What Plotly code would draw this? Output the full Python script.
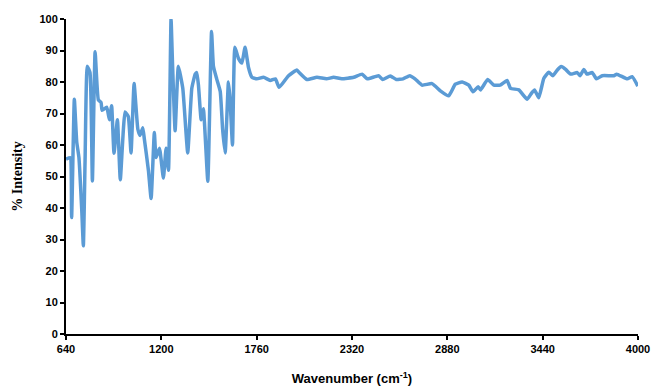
import plotly.graph_objects as go

wavenumber = [640, 664, 673, 689, 703, 716, 732, 742, 752, 765, 781, 795, 811, 830, 846, 852, 879, 895, 908, 922, 942, 959,
              987, 1006, 1022, 1040, 1062, 1075, 1091, 1100, 1124, 1140, 1159, 1169, 1189, 1212, 1228, 1242, 1257, 1265,
              1281, 1300, 1326, 1355, 1379, 1399, 1408, 1418, 1434, 1447, 1473, 1495, 1506, 1525, 1546, 1560, 1575, 1594,
              1603, 1618, 1632, 1653, 1673, 1692, 1712, 1732, 1761, 1800, 1840, 1870, 1892, 1947, 1996, 2010, 2055, 2114,
              2170, 2212, 2260, 2330, 2379, 2410, 2476, 2500, 2545, 2580, 2620, 2659, 2690, 2731, 2790, 2839, 2888, 2927,
              2967, 3006, 3031, 3061, 3075, 3117, 3153, 3190, 3231, 3251, 3300, 3349, 3375, 3392, 3417, 3447, 3476, 3500,
              3526, 3549, 3575, 3604, 3643, 3660, 3682, 3700, 3731, 3756, 3790, 3858, 3875, 3937, 3966, 3999]
intensity = [55.5, 56, 37, 74.5, 61, 56, 40, 28, 55, 85, 83, 48.6, 89.6, 74.3, 73.5, 71, 72, 68, 72.5, 57.4, 68, 49,
             70.5, 69, 57.5, 79.5, 65, 63, 65.5, 62, 52, 43, 64, 56, 59, 49.5, 59, 52, 100, 87,
             64.5, 85, 78, 57.5, 78, 82.5, 83, 79, 68, 71.5, 48.5, 96, 85, 81, 77, 65, 57.5, 80,
             75, 60, 91, 87.5, 86, 91, 84.6, 81.5, 81, 81.5, 80.5, 81, 78.3, 82, 83.8, 83, 80.8, 81.5,
             81, 81.5, 81, 81.5, 82.5, 81, 82, 80.8, 81.9, 80.8, 81, 82, 81, 79, 79.5, 77.2, 75.6, 79.3,
             80, 79, 76.9, 78.5, 77.5, 80.8, 79, 79, 80.5, 78, 77.5, 74.5, 76.5, 77.5, 75, 81.2, 83.1, 82,
             83.8, 84.9, 84, 82.5, 83, 82, 84, 82.5, 83, 81, 82, 82, 82.5, 81, 81.7, 78.7]

x_ticks = [640, 1200, 1760, 2320, 2880, 3440, 4000]
y_ticks = [0, 10, 20, 30, 40, 50, 60, 70, 80, 90, 100]

fig = go.Figure()
fig.add_trace(go.Scatter(
    x=wavenumber, y=intensity, mode="lines",
    line=dict(color="#5B9BD5", width=3.5, shape="spline", smoothing=0.4),
    showlegend=False,
))

fig.update_layout(
    width=651, height=391,
    margin=dict(l=66, r=13, t=19, b=57, autoexpand=False),
    paper_bgcolor="white", plot_bgcolor="white",
    font=dict(family="Liberation Sans, Arial, sans-serif", size=11, color="black"),
)
fig.update_xaxes(
    range=[640, 4000], tickmode="array", tickvals=x_ticks,
    ticktext=[f"<b>{v}</b>" for v in x_ticks], automargin=False,
    showline=True, linecolor="black", linewidth=2,
    ticks="outside", ticklen=4, tickwidth=2, tickcolor="black",
    showgrid=False, zeroline=False,
    title=dict(text="<b>Wavenumber (cm<sup>-1</sup>)</b>", font=dict(size=13), standoff=20),
)
fig.update_yaxes(
    range=[0, 100], tickmode="array", tickvals=y_ticks,
    ticktext=[f"<b>{v}</b>" for v in y_ticks], automargin=False,
    showline=True, linecolor="black", linewidth=2,
    ticks="outside", ticklen=4, tickwidth=2, tickcolor="black",
    showgrid=False, zeroline=False,
    title=dict(text="<b>% Intensity</b>", font=dict(family="Liberation Serif, Times New Roman, serif", size=14), standoff=14),
)

fig.write_html("out.html")
